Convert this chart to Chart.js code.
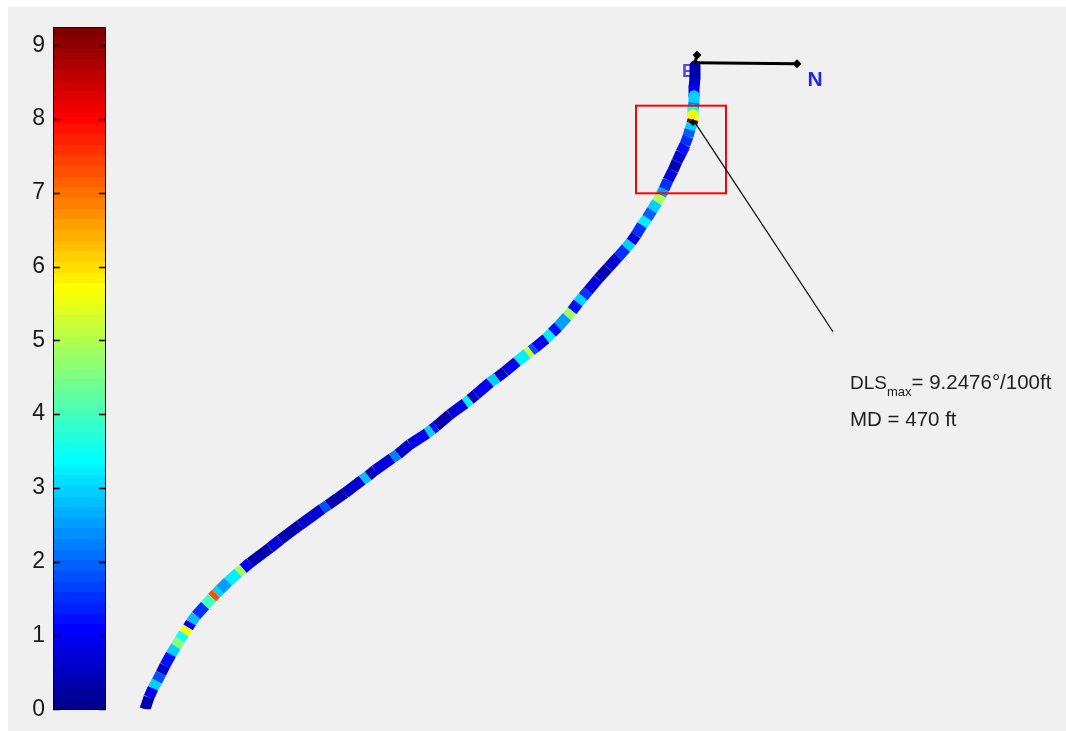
<!DOCTYPE html>
<html>
<head>
<meta charset="utf-8">
<script src="https://cdn.jsdelivr.net/npm/chart.js@4.4.1/dist/chart.umd.min.js"></script>
<style>
  html, body { margin: 0; padding: 0; background: #ffffff; }
  #wrap { position: relative; width: 1066px; height: 731px; overflow: hidden; }
  #bg { position: absolute; left: 8px; top: 7px; right: 0; bottom: 0; background: #f0f0f0; }
  canvas { position: absolute; left: 0; top: 0; }
</style>
</head>
<body>
<div id="wrap"><div id="bg"></div><canvas id="c" width="1066" height="731"></canvas></div>
<script>
// Colour bar: dogleg severity, deg/100ft
const cbTicks = [0, 1, 2, 3, 4, 5, 6, 7, 8, 9];
const cbLevels = 64;

// Well path stations in projected view units (horizontal, vertical-down), from surface to TD
const projX = [0, 0, -10, -10, -10, -20, -20, -20, -30, -50, -70, -100, -140, -180, -220, -270, -310, -340, -380, -430,
  -480, -530, -590, -640, -690, -770, -870, -970, -1070, -1120, -1170, -1230, -1280, -1370, -1430, -1490, -1600, -1640, -1680, -1780,
  -1900, -1980, -2050, -2190, -2250, -2300, -2450, -2590, -2630, -2680, -2850, -2970, -3030, -3200, -3270, -3330, -3500, -3670, -3730, -3950,
  -4150, -4250, -4450, -4520, -4570, -4670, -4750, -4790, -4830, -4900, -4990, -5040, -5070, -5110, -5150, -5190, -5240, -5300, -5340, -5380,
  -5420, -5460, -5500];
const projY = [60, 180, 280, 360, 430, 500, 550, 600, 640, 700, 770, 850, 930, 1020, 1110, 1210, 1300, 1360, 1430, 1510,
  1590, 1660, 1760, 1830, 1890, 1980, 2090, 2200, 2320, 2380, 2440, 2520, 2580, 2680, 2740, 2800, 2890, 2920, 2950, 3030,
  3130, 3190, 3240, 3360, 3410, 3450, 3560, 3680, 3710, 3750, 3860, 3960, 4000, 4120, 4180, 4220, 4350, 4470, 4510, 4670,
  4820, 4900, 5050, 5110, 5150, 5240, 5320, 5360, 5400, 5480, 5580, 5650, 5700, 5760, 5820, 5890, 5970, 6080, 6160, 6240,
  6310, 6400, 6520];
// DLS on the interval that starts at each station
const dls = [0.3, 0.5, 1.0, 3.0, 2.2, 3.5, 5.5, 9.2476, 3.0, 2.0, 1.5, 1.2, 0.6, 0.3, 0.8, 1.5, 2.5, 5.0, 3.0, 2.0,
  3.2, 1.5, 0.8, 3.0, 1.5, 0.6, 0.3, 0.8, 1.5, 3.0, 1.2, 4.8, 2.5, 1.2, 3.3, 1.0, 1.8, 5.3, 3.2, 1.0,
  0.5, 3.0, 1.0, 0.5, 3.2, 0.8, 0.4, 1.2, 3.0, 1.0, 0.6, 2.2, 0.8, 0.5, 2.8, 0.6, 0.4, 1.8, 0.6, 0.3,
  0.8, 0.4, 1.0, 4.8, 3.2, 2.5, 3.0, 7.3, 4.0, 1.5, 2.8, 0.9, 5.5, 3.5, 4.5, 3.0, 1.2, 0.7, 1.8, 3.0,
  1.0, 0.4, 0.3];
const mdAtMax = 470;

// Orientation triad and zoom box, in the same view units
const triadOrigin = [0, 30];
const triadTips = { E: [20, -50], N: [1020, 40], V: [-20, 630] };
const triadLabels = { E: [-70, 120], N: [1200, 200], V: [-120, 970] };
const zoomBox = [-590, 460, 310, 1340];
const calloutEnd = [1380, 2730];

const dlsMax = Math.max(...dls);
const cbMax = dlsMax;
const iMax = dls.indexOf(dlsMax);

// MATLAB-style jet colormap
function jetMap(m) {
  const n = Math.ceil(m / 4);
  const u = [];
  for (let i = 1; i <= n; i++) u.push(i / n);
  for (let i = 1; i < n; i++) u.push(1);
  for (let i = n; i >= 1; i--) u.push(i / n);
  const off = Math.ceil(n / 2) - (m % 4 === 1 ? 1 : 0);
  const J = Array.from({ length: m }, () => [0, 0, 0]);
  u.forEach((v, k) => {
    const g = off + k + 1, r = g + n, b = g - n;
    if (r >= 1 && r <= m) J[r - 1][0] = v;
    if (g >= 1 && g <= m) J[g - 1][1] = v;
    if (b >= 1 && b <= m) J[b - 1][2] = v;
  });
  return J.map(c => `rgb(${Math.round(c[0] * 255)},${Math.round(c[1] * 255)},${Math.round(c[2] * 255)})`);
}
const jet = jetMap(cbLevels);
const colorFor = v => jet[Math.max(0, Math.min(cbLevels - 1, Math.floor(v / cbMax * cbLevels)))];

const FONT = '"Liberation Sans", Arial, sans-serif';

const overlay = {
  id: 'overlay',
  beforeDatasetsDraw(chart) {
    const c = chart.ctx, sx = chart.scales.xt, sy = chart.scales.yt, ys = chart.scales.y, xc = chart.scales.xcb;
    const P = p => [sx.getPixelForValue(p[0]), sy.getPixelForValue(p[1])];
    // colour bar
    const x0 = xc.getPixelForValue(0), x1 = xc.getPixelForValue(1);
    for (let i = 0; i < cbLevels; i++) {
      const yA = ys.getPixelForValue(i * cbMax / cbLevels), yB = ys.getPixelForValue((i + 1) * cbMax / cbLevels);
      c.fillStyle = jet[i];
      c.fillRect(x0, Math.floor(yB), x1 - x0, Math.ceil(yA) - Math.floor(yB));
    }
    c.strokeStyle = '#000'; c.lineWidth = 1;
    const yTop = ys.getPixelForValue(cbMax), yBot = ys.getPixelForValue(0);
    c.strokeRect(Math.round(x0) + 0.5, Math.round(yTop) + 0.5, Math.round(x1 - x0) - 1, Math.round(yBot - yTop));
    c.lineWidth = 1.5;
    c.beginPath();
    cbTicks.forEach(t => {
      const y = Math.round(ys.getPixelForValue(t)) + 0.5;
      c.moveTo(x0, y); c.lineTo(x0 + 7, y);
      c.moveTo(x1 - 7, y); c.lineTo(x1, y);
    });
    c.stroke();
    // triad labels behind the well path
    c.font = 'bold 18px ' + FONT; c.textAlign = 'center'; c.textBaseline = 'middle';
    c.fillStyle = '#5a46e6';
    let p = P(triadLabels.E); c.fillText('E', p[0], p[1]);
    c.font = 'italic bold 17px ' + FONT;
    p = P(triadLabels.V); c.fillText('V', p[0], p[1]);
    // vertical triad leg
    const o = P(triadOrigin);
    c.strokeStyle = '#000'; c.lineWidth = 2.5;
    p = P(triadTips.V);
    c.beginPath(); c.moveTo(o[0], o[1]); c.lineTo(p[0], p[1]); c.stroke();
  },
  afterDatasetsDraw(chart) {
    const c = chart.ctx, sx = chart.scales.xt, sy = chart.scales.yt;
    const P = p => [sx.getPixelForValue(p[0]), sy.getPixelForValue(p[1])];
    const diamond = (q, r) => {
      c.beginPath(); c.moveTo(q[0], q[1] - r); c.lineTo(q[0] + r, q[1]); c.lineTo(q[0], q[1] + r); c.lineTo(q[0] - r, q[1]); c.closePath(); c.fill();
    };
    const o = P(triadOrigin);
    c.strokeStyle = '#000'; c.fillStyle = '#000'; c.lineWidth = 3;
    ['E', 'N'].forEach(k => {
      const t = P(triadTips[k]);
      c.beginPath(); c.moveTo(o[0], o[1]); c.lineTo(t[0], t[1]); c.stroke();
      diamond(t, 4.5);
    });
    diamond(P(triadTips.V), 3.5);
    c.font = 'bold 21px ' + FONT; c.textAlign = 'center'; c.textBaseline = 'middle';
    c.fillStyle = '#2424f0';
    const n = P(triadLabels.N); c.fillText('N', n[0], n[1]);
    // zoom box
    const a = P([zoomBox[0], zoomBox[1]]), b = P([zoomBox[2], zoomBox[3]]);
    c.strokeStyle = '#ff0000'; c.lineWidth = 2;
    c.strokeRect(a[0], a[1], b[0] - a[0], b[1] - a[1]);
    // callout to the maximum DLS station
    const s = P([projX[iMax], projY[iMax]]), e = P(calloutEnd);
    c.strokeStyle = '#111'; c.lineWidth = 1.3;
    c.beginPath(); c.moveTo(s[0], s[1]); c.lineTo(e[0], e[1]); c.stroke();
    c.fillStyle = '#1e1e1e'; c.textAlign = 'left'; c.textBaseline = 'middle';
    let x = e[0] + 17; const y = e[1] + 52;
    c.font = '19px ' + FONT; c.fillText('DLS', x, y); x += c.measureText('DLS').width;
    c.font = '13px ' + FONT; c.fillText('max', x, y + 9); x += c.measureText('max').width;
    c.font = '20.5px ' + FONT; c.fillText('= ' + dlsMax.toFixed(4) + '\u00B0/100ft', x, y);
    c.fillText('MD = ' + mdAtMax + ' ft', e[0] + 17, y + 37);
  }
};

new Chart(document.getElementById('c'), {
  type: 'line',
  data: {
    datasets: [{
      label: 'Well path',
      xAxisID: 'xt',
      yAxisID: 'yt',
      data: projX.map((x, i) => ({ x, y: projY[i] })),
      borderColor: jet[0],
      borderWidth: 11,
      borderCapStyle: 'butt',
      borderJoinStyle: 'round',
      pointRadius: 0,
      tension: 0,
      fill: false,
      segment: { borderColor: ctx => colorFor(dls[ctx.p0DataIndex]) }
    }]
  },
  options: {
    responsive: false,
    animation: false,
    events: [],
    layout: { padding: { left: 0, top: 27, right: 8, bottom: 19 } },
    plugins: { legend: { display: false }, tooltip: { enabled: false } },
    scales: {
      xt: { type: 'linear', axis: 'x', display: false, min: -6420, max: 3630 },
      yt: { type: 'linear', axis: 'y', display: false, reverse: true, min: -330, max: 6520 },
      xcb: { type: 'linear', axis: 'x', display: false, min: 0, max: 18.96 },
      y: {
        type: 'linear', position: 'left', min: 0, max: cbMax,
        afterBuildTicks: s => { s.ticks = cbTicks.map(v => ({ value: v })); },
        afterFit: s => { s.width = 53; },
        grid: { display: false, drawTicks: false },
        border: { display: false },
        ticks: { padding: 8, color: '#1a1a1a', font: { family: FONT, size: 23 } }
      }
    }
  },
  plugins: [overlay]
});
</script>
</body>
</html>
